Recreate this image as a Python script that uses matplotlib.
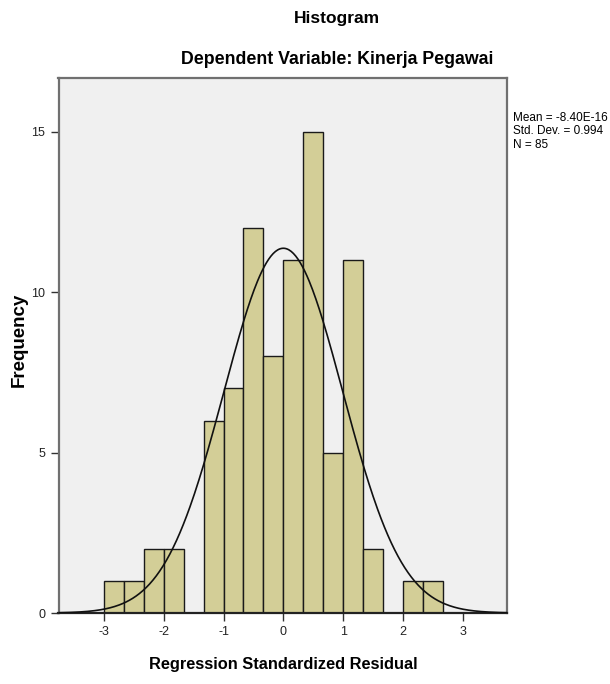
import numpy as np
import matplotlib
matplotlib.use('Agg')
from matplotlib import pyplot as plt

# histogram bins (width 1/3) and counts
bin_edges = np.arange(-3, 2.7, 1 / 3)
counts = [1, 1, 2, 2, 0, 6, 7, 12, 8, 11, 15, 5, 11, 2, 0, 1, 1]
mean = -8.40e-16
std = 0.994
n = 85

plt.rcParams['font.family'] = ['Liberation Sans', 'DejaVu Sans']
plt.rcParams['axes.unicode_minus'] = False

fig = plt.figure(figsize=(6.1, 6.84), dpi=100)
ax = fig.add_axes([58.5 / 610, 1 - 613 / 684, (507 - 58.5) / 610, (613 - 78) / 684])
ax.set_facecolor('#f0f0f0')

width = bin_edges[1] - bin_edges[0]
ax.bar(bin_edges[:-1], counts, width=width, align='edge',
       color='#d3ce97', edgecolor='#1a1a1a', linewidth=1.0, zorder=2)

x = np.linspace(-3.76, 3.74, 400)
y = n * width / (std * np.sqrt(2 * np.pi)) * np.exp(-0.5 * ((x - mean) / std) ** 2)
ax.plot(x, y, color='#111111', linewidth=1.2, zorder=3)

ax.set_xlim(-3.76, 3.74)
ax.set_ylim(0, 16.68)
ax.set_xticks([-3, -2, -1, 0, 1, 2, 3])
ax.set_yticks([0, 5, 10, 15])
ax.tick_params(labelsize=9, length=6, width=1, color='#333333',
               labelcolor='#222222')
for s in ax.spines.values():
    s.set_color('#707070')
    s.set_linewidth(1.6)
ax.spines['bottom'].set_color('#222222')

fig.text(283 / 610, 1 - 665 / 684, 'Regression Standardized Residual',
         fontsize=11.8, fontweight='bold', ha='center', va='center')
fig.text(19 / 610, 1 - 340 / 684, 'Frequency', fontsize=13.5,
         fontweight='bold', rotation=90, ha='center', va='center')

fig.text(0.552, 1 - 18 / 684, 'Histogram', fontsize=12.5, fontweight='bold',
         ha='center', va='center')
fig.text(0.552, 1 - 60 / 684, 'Dependent Variable: Kinerja Pegawai',
         fontsize=12.8, fontweight='bold', ha='center', va='center')
fig.text(513 / 610, 1 - 112 / 684,
         'Mean = -8.40E-16\nStd. Dev. = 0.994\nN = 85',
         fontsize=8.5, ha='left', va='top', linespacing=1.15)

fig.savefig('out.png', dpi=100)
